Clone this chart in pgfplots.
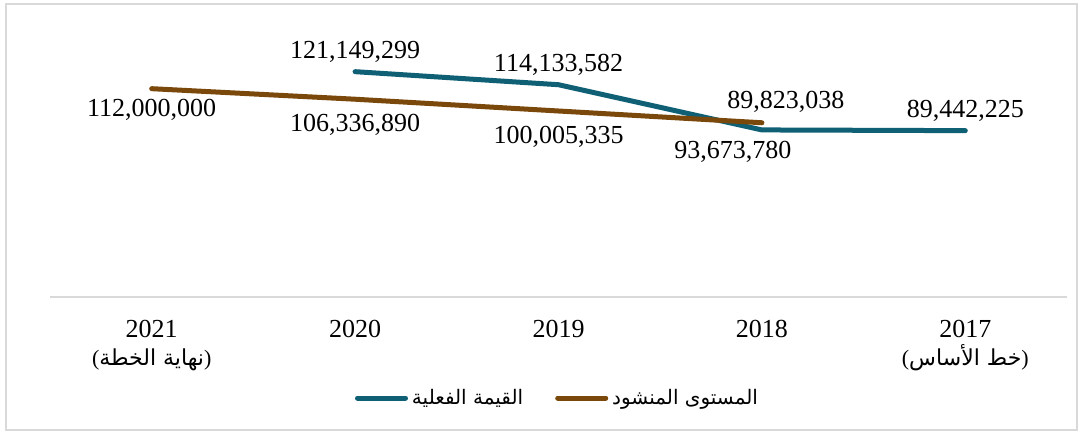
\documentclass[border=0pt]{standalone}
\usepackage{fontspec}
\setmainfont{Liberation Serif}
\newfontfamily\arabicfont[Script=Arabic]{DejaVu Sans}
\TeXXeTstate=1
\usepackage{pgfplots}
\usepackage{pgfplotstable}
\pgfplotsset{compat=1.18}
\definecolor{tealline}{RGB}{16,96,117}
\definecolor{brownline}{RGB}{122,72,10}
\definecolor{framegray}{RGB}{217,217,217}

% x: 0=2021 ... 4=2017 (axis runs right to left in time)
\pgfplotstableread{
x y label
1 121149299 121,149,299
2 114133582 114,133,582
3 89823038 89,823,038
4 89442225 89,442,225
}\actual
\pgfplotstableread{
x y label
0 112000000 112,000,000
1 106336890 106,336,890
2 100005335 100,005,335
3 93673780 93,673,780
}\target

\pgfplotsset{
  lbl/.style 2 args={draw=none, mark=none, forget plot, nodes near coords,
    point meta=explicit symbolic,
    every node near coord/.append style={font=\fontsize{13}{15}\selectfont,
      anchor=center, inner sep=0pt, text=black, xshift=#1, yshift=#2}},
}

\begin{document}
\begin{tikzpicture}
\useasboundingbox (0,0) rectangle (541.5pt,-217pt);
\draw[framegray, line width=1pt] (3pt,-2pt) rectangle (538.5pt,-215pt);
\begin{axis}[
  at={(25pt,-148.5pt)}, anchor=south west,
  scale only axis, width=508.5pt, height=139.5pt,
  xmin=-0.5, xmax=4.5, ymin=0, ymax=150000000,
  axis x line=bottom, axis y line=none,
  axis line style={-, draw=framegray, line width=1pt},
  xtick={0,...,4}, ytick=\empty, major tick length=0pt,
  xticklabels={
    {2021\\{\fontsize{11}{13}\selectfont({\arabicfont\beginR نهاية الخطة\endR})}},
    {2020},{2019},{2018},
    {2017\\{\fontsize{11}{13}\selectfont({\arabicfont\beginR خط الأساس\endR})}}},
  xticklabel style={font=\fontsize{13}{14}\selectfont, align=center, anchor=north, inner sep=0pt, yshift=-11.5pt},
  clip=false,
  legend columns=2,
  legend image code/.code={\draw[#1, line width=2.5pt, line cap=round] (0pt,0pt) -- (24pt,0pt);},
  legend style={draw=none, fill=none, at={(0.5,0)}, anchor=center, yshift=-50.5pt,
    font=\fontsize{10}{12}\selectfont,
    /tikz/every even column/.append style={column sep=14pt}},
]
\addplot[tealline, line width=2.5pt, line cap=round, line join=round] table[x=x, y=y] {\actual};
\addlegendentry{{\arabicfont\beginR القيمة الفعلية\endR}}
\addplot[brownline, line width=2.5pt, line cap=round, line join=round] table[x=x, y=y] {\target};
\addlegendentry{{\arabicfont\beginR المستوى المنشود\endR}}
% data labels
\addplot[lbl={0pt}{10pt}, skip coords between index={2}{3}] table[x=x, y=y, meta=label] {\actual};
\addplot[lbl={12pt}{14pt}, skip coords between index={0}{2}, skip coords between index={3}{4}] table[x=x, y=y, meta=label] {\actual};
\addplot[lbl={0pt}{-10.5pt}, skip coords between index={1}{4}] table[x=x, y=y, meta=label] {\target};
\addplot[lbl={0pt}{-13pt}, skip coords between index={0}{1}, skip coords between index={3}{4}] table[x=x, y=y, meta=label] {\target};
\addplot[lbl={-14.5pt}{-14.5pt}, skip coords between index={0}{3}] table[x=x, y=y, meta=label] {\target};
\end{axis}
\end{tikzpicture}
\end{document}
